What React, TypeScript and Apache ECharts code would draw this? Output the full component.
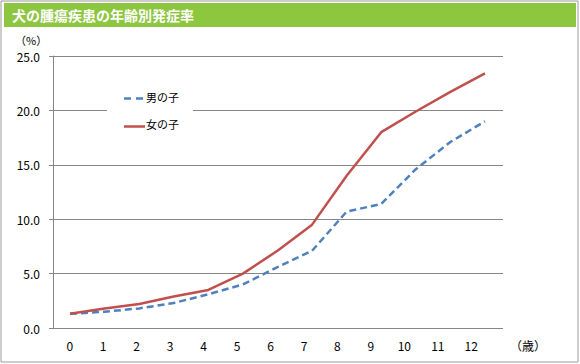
import React, { useEffect, useRef } from "react";
import * as echarts from "echarts";

const title = "犬の腫瘍疾患の年齢別発症率";
const ages = ["0", "1", "2", "3", "4", "5", "6", "7", "8", "9", "10", "11", "12"];
const boys = [1.3, 1.5, 1.8, 2.3, 3.1, 4.0, 5.6, 7.1, 10.7, 11.4, 14.6, 17.1, 19.0];
const girls = [1.3, 1.8, 2.2, 2.9, 3.5, 5.0, 7.1, 9.5, 14.0, 18.0, 19.9, 21.7, 23.4];
const seriesNames = ["男の子", "女の子"];
const yTicks = [0, 5, 10, 15, 20, 25];
const majorLines = [5, 25];

const FONT = "'Noto Sans CJK JP', 'DejaVu Sans', sans-serif";
const GRAY = "#868686";
const BLUE = "#4F81BD";
const RED = "#C0504D";

export default function App() {
  const ref = useRef<HTMLDivElement>(null);
  useEffect(() => {
    document.body.style.margin = "0";
    const chart = echarts.init(ref.current!, null, { renderer: "svg" });
    const left = 53, top = 56, h = 272;
    chart.setOption({
      animation: false,
      backgroundColor: "#ffffff",
      textStyle: { fontFamily: FONT },
      grid: [
        { left, top, width: 450, height: h },
        { left, top, width: 435, height: h },
      ],
      xAxis: [
        { gridIndex: 0, type: "value", show: false, min: 0, max: 1 },
        {
          gridIndex: 1,
          type: "category",
          data: ages,
          boundaryGap: true,
          axisLine: { onZero: false, lineStyle: { color: GRAY, width: 1 } },
          axisTick: { length: 4, lineStyle: { color: GRAY } },
          axisLabel: { color: "#000", fontSize: 12, margin: 11, fontFamily: FONT },
          splitLine: { show: false },
        },
        { gridIndex: 1, type: "value", show: false, min: -0.4916, max: 12.087 },
      ],
      yAxis: [
        {
          gridIndex: 0,
          type: "value",
          min: yTicks[0],
          max: yTicks[yTicks.length - 1],
          interval: 5,
          axisLine: { show: false },
          axisTick: { show: false },
          axisLabel: { show: false },
          splitLine: { lineStyle: { color: GRAY, width: 1 } },
        },
        {
          gridIndex: 1,
          type: "value",
          min: yTicks[0],
          max: yTicks[yTicks.length - 1],
          interval: 5,
          axisLine: { show: true, onZero: false, lineStyle: { color: GRAY, width: 1 } },
          axisTick: { show: true, length: 4, lineStyle: { color: GRAY } },
          axisLabel: {
            color: "#000",
            fontSize: 12,
            margin: 13,
            fontFamily: FONT,
            formatter: (v: number) => v.toFixed(1),
          },
          splitLine: { show: false },
        },
      ],
      series: [
        {
          type: "line",
          xAxisIndex: 0,
          yAxisIndex: 0,
          data: [],
          silent: true,
          markLine: {
            symbol: "none",
            silent: true,
            label: { show: false },
            lineStyle: { color: GRAY, width: 2.5, type: "solid" },
            data: majorLines.map((v) => [
              { coord: [-0.01, v] },
              { coord: [1, v] },
            ]),
          },
          z: 3,
        },
        {
          name: seriesNames[0],
          type: "line",
          xAxisIndex: 2,
          yAxisIndex: 1,
          data: boys.map((v, i) => [i, v]),
          showSymbol: false,
          lineStyle: { color: BLUE, width: 2.5, type: [7, 4] },
          itemStyle: { color: BLUE },
          z: 5,
        },
        {
          name: seriesNames[1],
          type: "line",
          xAxisIndex: 2,
          yAxisIndex: 1,
          data: girls.map((v, i) => [i, v]),
          showSymbol: false,
          lineStyle: { color: RED, width: 2.5, type: "solid" },
          itemStyle: { color: RED },
          z: 6,
        },
      ],
      graphic: [
        {
          type: "rect",
          shape: { x: 1, y: 1, width: 577, height: 361 },
          style: { fill: "none", stroke: "#9a9a9a", lineWidth: 1 },
          silent: true,
          z: 0,
        },
        {
          type: "rect",
          shape: { x: 4, y: 3, width: 572, height: 24 },
          style: { fill: "#8DC63F" },
          z: 1,
        },
        {
          type: "text",
          x: 12,
          y: 15,
          style: {
            text: title,
            fill: "#ffffff",
            fontSize: 14,
            fontFamily: FONT,
            fontWeight: "bold",
            verticalAlign: "middle",
          },
          z: 2,
        },
        {
          type: "text",
          x: 15,
          y: 40,
          style: { text: "（%）", fill: "#000", fontSize: 11, fontFamily: FONT, verticalAlign: "middle" },
          z: 2,
        },
        {
          type: "text",
          x: 510,
          y: 345,
          style: { text: "（歳）", fill: "#000", fontSize: 12, fontFamily: FONT, verticalAlign: "middle" },
          z: 2,
        },
        {
          type: "rect",
          shape: { x: 107, y: 85, width: 86, height: 50 },
          style: { fill: "#ffffff" },
          z: 10,
        },
        {
          type: "line",
          shape: { x1: 124, y1: 98.5, x2: 145, y2: 98.5 },
          style: { stroke: BLUE, lineWidth: 2.5, lineDash: [7, 5] },
          z: 11,
        },
        {
          type: "text",
          x: 146,
          y: 97,
          style: { text: seriesNames[0], fill: "#000", fontSize: 11, fontFamily: FONT, verticalAlign: "middle" },
          z: 11,
        },
        {
          type: "line",
          shape: { x1: 124, y1: 126.5, x2: 145, y2: 126.5 },
          style: { stroke: RED, lineWidth: 2.5 },
          z: 11,
        },
        {
          type: "text",
          x: 146,
          y: 124,
          style: { text: seriesNames[1], fill: "#000", fontSize: 11, fontFamily: FONT, verticalAlign: "middle" },
          z: 11,
        },
      ],
    });
    return () => chart.dispose();
  }, []);
  return (
    <div
      ref={ref}
      style={{ position: "absolute", left: 0, top: 0, width: 580, height: 364 }}
    />
  );
}
